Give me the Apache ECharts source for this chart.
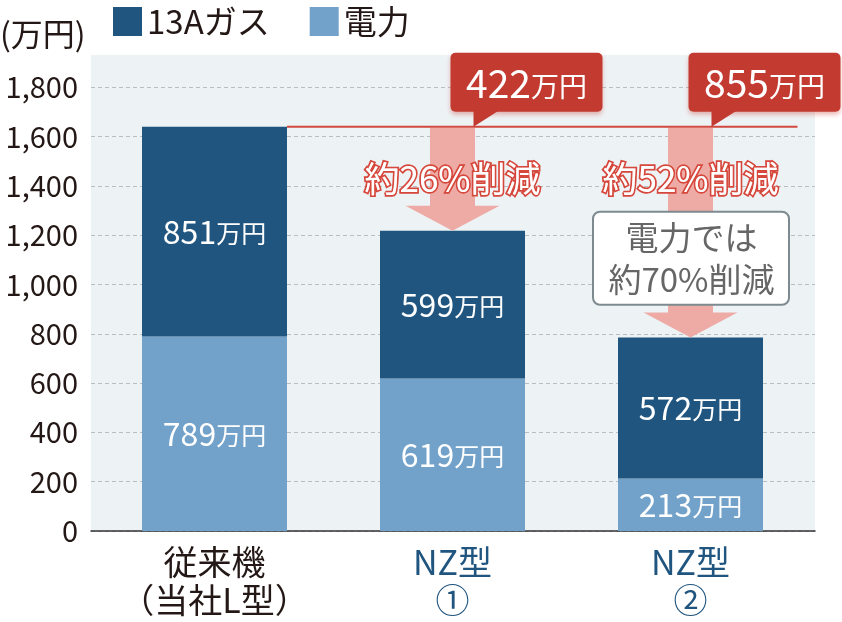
<!DOCTYPE html>
<html>
<head>
<meta charset="utf-8">
<script src="https://cdn.jsdelivr.net/npm/echarts@6/dist/echarts.min.js"></script>
<style>html,body{margin:0;padding:0;background:#fff;}#c{width:842px;height:622px;}</style>
</head>
<body>
<div id="c"></div>
<script>
const categories = ['従来機\n（当社L型）', 'NZ型\n①', 'NZ型\n②'];
const gasValues = [851, 599, 572];
const elecValues = [789, 619, 213];
const yTicks = [0, 200, 400, 600, 800, 1000, 1200, 1400, 1600, 1800];
const savings = ['422', '855'];
const reductions = ['約26%削減', '約52%削減'];
const noteText = '電力では\n約70%削減';
const seriesNames = ['13Aガス', '電力'];
const unitLabel = '(万円)';

const FONT = "'Noto Sans CJK JP','Noto Sans',sans-serif";
const DARK = '#20557f', LIGHT = '#72a1c9', RED = '#c33a31', PINK = '#eeaba5';
const catColors = ['#231815', DARK, DARK];

const chart = echarts.init(document.getElementById('c'), null, {renderer: 'canvas'});

const barLabel = {
  show: true, position: 'inside', fontFamily: FONT,
  formatter: p => '{n|' + p.value + '}{u|万円}',
  rich: {
    n: {fontSize: 32, color: '#fff', fontFamily: FONT},
    u: {fontSize: 25, color: '#fff', fontFamily: FONT, padding: [4, 0, 0, 0]}
  }
};

const option = {
  animation: false,
  textStyle: {fontFamily: FONT},
  legend: {
    left: 108, top: 0, itemWidth: 29, itemHeight: 29, itemGap: 40,
    icon: 'rect',
    textStyle: {fontSize: 33, color: '#231815', fontFamily: FONT, padding: [0, 0, 0, 0]},
    data: seriesNames
  },
  grid: [
    {left: 95.5, right: 32.5, top: 87.3, bottom: 91},
    {left: 91, right: 27, top: 87.3, bottom: 91},
    {left: 91, right: 27, top: 55, bottom: 91, show: true, backgroundColor: '#edf2f5', borderWidth: 0}
  ],
  xAxis: [
    {
      gridIndex: 0, type: 'category',
      data: categories.map((c, i) => ({value: c, textStyle: {color: catColors[i]}})),
      axisLine: {show: false}, axisTick: {show: false},
      axisLabel: {margin: 12, fontSize: 34, lineHeight: 38, fontFamily: FONT, interval: 0}
    },
    {
      gridIndex: 1, type: 'category', data: categories,
      axisLine: {show: true, lineStyle: {color: '#333', width: 1.5}},
      axisTick: {show: false}, axisLabel: {show: false}
    },
    {gridIndex: 2, type: 'value', show: false}
  ],
  yAxis: [
    {gridIndex: 0, type: 'value', min: 0, max: 1800, show: false, splitLine: {show: false}},
    {
      gridIndex: 1, type: 'value', min: yTicks[0], max: yTicks[yTicks.length - 1], interval: 200,
      axisLine: {show: false}, axisTick: {show: false},
      axisLabel: {
        fontSize: 29, color: '#231815', margin: 13, fontFamily: FONT,
        formatter: v => v.toLocaleString('en-US')
      },
      splitLine: {show: true, lineStyle: {color: '#b9bec2', type: [4, 3], width: 1}}
    },
    {gridIndex: 2, type: 'value', show: false}
  ],
  series: [
    {
      name: seriesNames[1], type: 'bar', stack: 't', xAxisIndex: 0, yAxisIndex: 0,
      data: elecValues, barWidth: 145, itemStyle: {color: LIGHT}, label: barLabel
    },
    {
      name: seriesNames[0], type: 'bar', stack: 't', xAxisIndex: 0, yAxisIndex: 0,
      data: gasValues, barWidth: 145, itemStyle: {color: DARK}, label: barLabel
    }
  ]
};
option.legend.data = [
  {name: seriesNames[0], itemStyle: {color: DARK}},
  {name: seriesNames[1], itemStyle: {color: LIGHT}}
];
chart.setOption(option);

// annotations computed from axes
function px(cat, val) { return chart.convertToPixel({xAxisIndex: 0, yAxisIndex: 0}, [cat, val]); }
const totals = gasValues.map((g, i) => g + elecValues[i]);
const p0 = px(0, totals[0]);
const c1 = px(1, totals[1]);
const c2 = px(2, totals[2]);
const lineY = p0[1];
const g = [];

g.push({type: 'text', left: 0, top: 18, style: {text: unitLabel, fontSize: 32, fill: '#231815', fontFamily: FONT}, z: 20});

// reference line
g.push({type: 'line', shape: {x1: p0[0] + 72.5, y1: lineY, x2: c2[0] + 107, y2: lineY},
  style: {stroke: '#d24a3f', lineWidth: 2}, z: 20});

// arrows
function arrow(cx, y0, yTip) {
  const headH = 25, sw = 22.5, hw = 47;
  g.push({type: 'polygon', shape: {points: [
    [cx - sw, y0], [cx + sw, y0], [cx + sw, yTip - headH], [cx + hw, yTip - headH],
    [cx, yTip], [cx - hw, yTip - headH], [cx - sw, yTip - headH]]},
    style: {fill: PINK}, z: 15});
}
arrow(c1[0], lineY + 1, c1[1]);
arrow(c2[0], lineY + 1, c2[1]);

// bubbles
function bubble(cx, text) {
  const left = cx - 2, top = lineY - 74, w = 152, h = 59;
  g.push({type: 'rect', shape: {x: left, y: top, width: w, height: h, r: 5},
    style: {fill: RED, shadowBlur: 4, shadowColor: 'rgba(200,60,50,0.35)', shadowOffsetY: 3}, z: 25});
  g.push({type: 'polygon', shape: {points: [[cx + 21, top + h - 1], [cx + 46, top + h - 1], [cx + 21, lineY]]},
    style: {fill: RED}, z: 25});
  g.push({type: 'text', x: left + w / 2, y: top + h / 2 + 1,
    style: {text: '{n|' + text + '}{u|万円}', align: 'center', verticalAlign: 'middle',
      rich: {n: {fontSize: 39, fill: '#fff', fontFamily: FONT}, u: {fontSize: 28, fill: '#fff', fontFamily: FONT, padding: [6, 0, 0, 0]}}},
    z: 26});
}
bubble(c1[0], savings[0]);
bubble(c2[0], savings[1]);

// reduction texts
[c1, c2].forEach((c, i) => {
  g.push({type: 'text', x: c[0], y: lineY + 52,
    style: {text: reductions[i], fontSize: 35, fill: '#fff', stroke: '#d6473c', lineWidth: 3.5,
      align: 'center', verticalAlign: 'middle', fontFamily: FONT}, z: 30});
  g.push({type: 'text', x: c[0], y: lineY + 52,
    style: {text: reductions[i], fontSize: 35, fill: '#fff', align: 'center', verticalAlign: 'middle', fontFamily: FONT, opacity: 0.5}, z: 31});
});

// note box
g.push({type: 'rect', shape: {x: c2[0] - 97.5, y: lineY + 85, width: 196, height: 93, r: 7},
  style: {fill: '#fff', stroke: '#7d8b91', lineWidth: 2}, z: 32});
g.push({type: 'text', x: c2[0] + 1, y: lineY + 132,
  style: {text: noteText, fontSize: 33, lineHeight: 42, fill: '#666', align: 'center', verticalAlign: 'middle', fontFamily: FONT}, z: 33});

chart.setOption({graphic: g});
</script>
</body>
</html>
